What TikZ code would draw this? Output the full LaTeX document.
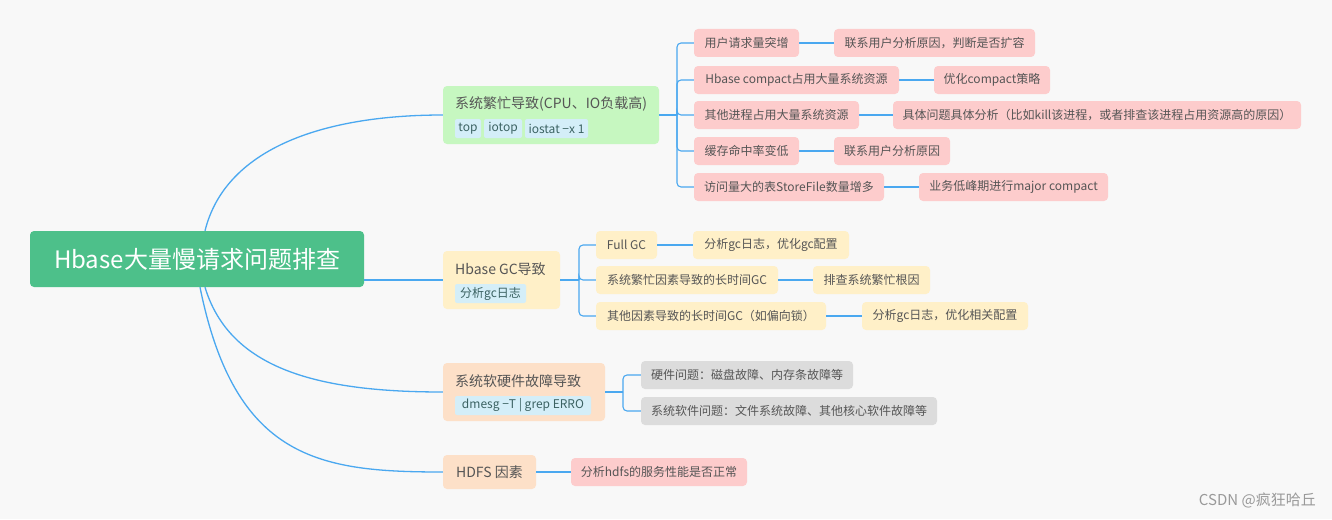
\documentclass[tikz,border=0pt]{standalone}
\usepackage{fontspec}
\setmainfont{Noto Sans CJK SC}
\begin{document}
\newcommand\bx[7]{\node[#2,minimum width={(#5-#3)*1pt},minimum height={(#6-#4)*1pt}] (#1) at ({(#3+#5)/2},{(#4+#6)/2}) {#7};}
\definecolor{bg}{HTML}{F8F8F8}
\definecolor{ln}{HTML}{4AA8F0}
\definecolor{tx}{HTML}{555555}
\definecolor{rootc}{HTML}{4DC08A}
\definecolor{grn}{HTML}{C6F7C0}
\definecolor{yel}{HTML}{FFF0C8}
\definecolor{pch}{HTML}{FDE0C8}
\definecolor{pnk}{HTML}{FDCCCC}
\definecolor{gry}{HTML}{DCDCDC}
\definecolor{tag}{HTML}{D4EEF8}
\begin{tikzpicture}[x=1pt,y=-1pt,
  box/.style={rounded corners=4pt,inner sep=0pt,text=tx,font=\fontsize{12}{14}\selectfont},
  pk/.style={box,fill=pnk}, yl/.style={box,fill=yel}, gy/.style={box,fill=gry},
  l1/.style={box,font=\fontsize{14}{16}\selectfont},
  tg/.style={box,fill=tag,text=tx!70!teal,rounded corners=2pt},
  ttl/.style={anchor=west,inner sep=0pt,text=tx,font=\fontsize{14}{16}\selectfont},
  con/.style={draw=ln,line width=1.3pt},
  br/.style={draw=ln,line width=1.1pt,rounded corners=4pt}]
\fill[bg] (0,0) rectangle (1332,519);
% root and level 1
\bx{root}{box,fill=rootc,text=white,font=\fontsize{24}{28}\selectfont}{30}{231}{364}{287}{Hbase大量慢请求问题排查}
\bx{A}{l1,fill=grn}{443}{86}{659}{144}{}
\bx{B}{l1,fill=yel}{443}{251}{560}{309}{}
\bx{C}{l1,fill=pch}{443}{363}{605}{421}{}
\bx{D}{l1,fill=pch}{443}{455}{536}{489}{HDFS 因素}
\node[ttl] (At) at (455,104) {系统繁忙导致(CPU、IO负载高)};
\bx{At1}{tg}{455}{119}{481}{138}{top}
\bx{At2}{tg}{484}{119}{522}{138}{iotop}
\bx{At3}{tg}{525}{119}{588}{138}{iostat −x 1}
\node[ttl] (Bt) at (455,269) {Hbase GC导致};
\bx{Bt1}{tg}{455}{284}{526}{303}{分析gc日志}
\node[ttl] (Ct) at (455,381) {系统软硬件故障导致};
\bx{Ct1}{tg}{455}{396}{591}{415}{dmesg −T | grep ERRO}
% A children
\bx{a1}{pk}{694}{29}{799}{57}{用户请求量突增}
\bx{a1x}{pk}{834}{29}{1035}{57}{联系用户分析原因，判断是否扩容}
\bx{a2}{pk}{694}{66}{899}{94}{Hbase compact占用大量系统资源}
\bx{a2x}{pk}{934}{66}{1050}{94}{优化compact策略}
\bx{a3}{pk}{694}{101}{859}{129}{其他进程占用大量系统资源}
\bx{a3x}{pk}{893}{101}{1301}{129}{具体问题具体分析（比如kill该进程，或者排查该进程占用资源高的原因）}
\bx{a4}{pk}{694}{137}{799}{165}{缓存命中率变低}
\bx{a4x}{pk}{834}{137}{950}{165}{联系用户分析原因}
\bx{a5}{pk}{694}{173}{884}{201}{访问量大的表StoreFile数量增多}
\bx{a5x}{pk}{919}{173}{1108}{201}{业务低峰期进行major compact}
% B children
\bx{b1}{yl}{596}{231}{657}{259}{Full GC}
\bx{b1x}{yl}{693}{231}{849}{259}{分析gc日志，优化gc配置}
\bx{b2}{yl}{596}{266}{778}{294}{系统繁忙因素导致的长时间GC}
\bx{b2x}{yl}{813}{266}{930}{294}{排查系统繁忙根因}
\bx{b3}{yl}{596}{302}{826}{330}{其他因素导致的长时间GC（如偏向锁）}
\bx{b3x}{yl}{862}{302}{1028}{330}{分析gc日志，优化相关配置}
% C, D children
\bx{c1}{gy}{641}{361}{853}{389}{硬件问题：磁盘故障、内存条故障等}
\bx{c2}{gy}{641}{397}{937}{425}{系统软件问题：文件系统故障、其他核心软件故障等}
\bx{d1}{pk}{571}{458}{747}{486}{分析hdfs的服务性能是否正常}
% root connectors
\draw[con] ([xshift=8pt]root.north) .. controls (225,150) and (320,115) .. (A.west);
\draw[con] (root.east |- B.west) -- (B.west);
\draw[con] ([xshift=8pt]root.south) .. controls (230,370) and (320,392) .. (C.west);
\draw[con] ([xshift=3pt]root.south) .. controls (235,460) and (320,472) .. (D.west);
% brackets
\coordinate (jA) at (677,115);
\coordinate (jB) at (579,280);
\coordinate (jC) at (623,392);
\draw[br] (A.east) -- (jA);
\foreach \c in {a1,a2,a3,a4,a5}{\draw[br] (jA) |- (\c.west);}
\draw[br] (B.east) -- (jB);
\foreach \c in {b1,b2,b3}{\draw[br] (jB) |- (\c.west);}
\draw[br] (C.east) -- (jC);
\foreach \c in {c1,c2}{\draw[br] (jC) |- (\c.west);}
\draw[br] (D.east) -- (d1.west);
\foreach \p/\q in {a1/a1x,a2/a2x,a3/a3x,a4/a4x,a5/a5x,b1/b1x,b2/b2x,b3/b3x}{\draw[br] (\p.east) -- (\q.west);}
\node[anchor=east,inner sep=0pt,text=gray!80,font=\fontsize{15}{17}\selectfont] (wm) at (1316,500) {CSDN @疯狂哈丘};
\end{tikzpicture}
\end{document}
